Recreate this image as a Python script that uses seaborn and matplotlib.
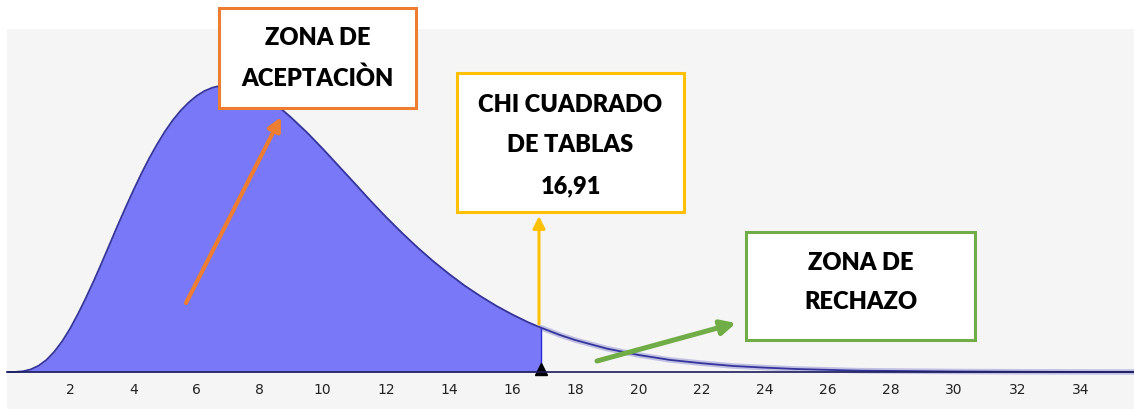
import numpy as np
import pandas as pd
import matplotlib
matplotlib.use("Agg")
import matplotlib.pyplot as plt
import seaborn as sns
from matplotlib.patches import Rectangle, FancyArrowPatch

# chi-square density (9 d.f.)
chi_x = [0, 0.25, 0.5, 0.75, 1, 1.25, 1.5, 1.75, 2, 2.25, 2.5, 2.75, 3, 3.25,
         3.5, 3.75, 4, 4.25, 4.5, 4.75, 5, 5.25, 5.5, 5.75, 6, 6.25, 6.5, 6.75,
         7, 7.25, 7.5, 7.75, 8, 8.25, 8.5, 8.75, 9, 9.5, 10, 10.5, 11, 11.5, 12,
         12.5, 13, 13.5, 14, 14.5, 15, 15.5, 16, 16.5, 16.91, 17, 17.5, 18, 19,
         20, 21, 22, 23, 24, 25, 26, 27, 28, 30, 32, 34, 36]
density = [0, 0.00003, 0.00026, 0.00095, 0.0023, 0.0044, 0.0074, 0.0112, 0.0158,
           0.0211, 0.0269, 0.0331, 0.0396, 0.0463, 0.0530, 0.0595, 0.0658,
           0.0718, 0.0774, 0.0825, 0.0872, 0.0913, 0.0948, 0.0977, 0.1001,
           0.1019, 0.1031, 0.1038, 0.1041, 0.1039, 0.1032, 0.1022, 0.1008,
           0.0991, 0.0970, 0.0948, 0.0923, 0.0869, 0.0810, 0.0748, 0.0686,
           0.0623, 0.0563, 0.0506, 0.0452, 0.0402, 0.0356, 0.0313, 0.0275,
           0.0240, 0.0209, 0.0181, 0.0161, 0.0157, 0.0135, 0.0116, 0.0085,
           0.0062, 0.0044, 0.0032, 0.0022, 0.0016, 0.0011, 0.0008, 0.0005,
           0.0004, 0.0002, 0.0001, 0.00004, 0.00002]
critical = 16.91
tick_vals = list(range(0, 36, 2))
tick_text = [""] + [str(t) for t in tick_vals[1:]]

df = pd.DataFrame({"x": chi_x, "y": density})
acc = df[df["x"] <= critical]
rej = df[df["x"] >= critical]

sns.set_style("white", {"axes.facecolor": "#f5f5f5"})
plt.rcParams["font.family"] = ["Liberation Sans Narrow", "DejaVu Sans"]

W, H = 1134, 409
fig = plt.figure(figsize=(W / 100, H / 100), dpi=100, facecolor="white")
ax = fig.add_axes([7 / W, 0, 1 - 7 / W, 380 / H])

ax.fill_between(acc["x"], 0, acc["y"], color="#7878f8", linewidth=0)
# soft blurry tail like the original
sns.lineplot(data=rej, x="x", y="y", ax=ax, color="#8c8cd4", linewidth=4, alpha=0.5)
sns.lineplot(data=df, x="x", y="y", ax=ax, color="#34349a", linewidth=1.3)
ax.plot([critical, critical], [0, acc["y"].iloc[-1]], color="#2a2ad8", linewidth=1)
ax.plot([critical], [0.0011], marker="^", color="black", markersize=8, clip_on=False)

ax.set_xlim(0, 35.7)
ax.set_ylim(-0.0134, 0.1244)
for s in ["left", "right", "top"]:
    ax.spines[s].set_visible(False)
ax.spines["bottom"].set_position(("data", 0))
ax.spines["bottom"].set_color("#1c1c5c")
ax.spines["bottom"].set_linewidth(1.2)
ax.set_xticks(tick_vals)
ax.set_xticklabels(tick_text)
ax.tick_params(axis="x", direction="out", length=4, width=1, color="#333333",
               labelsize=10, labelcolor="#222222", pad=4)
ax.set_yticks([])
ax.set_xlabel("")
ax.set_ylabel("")


def fpos(px, py):
    return (px / W, 1 - py / H)


def box(x0, y0, x1, y1, color, lines, line_y):
    fx, fy = fpos(x0, y1)
    rect = Rectangle((fx, fy), (x1 - x0) / W, (y1 - y0) / H, transform=fig.transFigure,
                     facecolor="white", edgecolor=color, linewidth=2.2, zorder=5)
    fig.add_artist(rect)
    cx = (x0 + x1) / 2
    for txt, ly in zip(lines, line_y):
        tx, ty = fpos(cx, ly)
        fig.text(tx, ty, txt, ha="center", va="center", fontsize=17, fontweight="heavy",
                 family=["Lato", "DejaVu Sans"], color="black", zorder=6)


def arrow(p0, p1, color, lw, scale):
    a = FancyArrowPatch(fpos(*p0), fpos(*p1), transform=fig.transFigure,
                        arrowstyle="-|>", mutation_scale=scale, color=color,
                        linewidth=lw, shrinkA=0, shrinkB=0, zorder=7)
    fig.add_artist(a)


box(219, 8, 416, 108, "#ed7d31", ["ZONA DE", "ACEPTACIÒN"], [38, 78])
box(457, 73, 684, 212, "#ffc000", ["CHI CUADRADO", "DE TABLAS", "16,91"], [105, 145, 186])
box(746, 232, 975, 340, "#70ad47", ["ZONA DE", "RECHAZO"], [263, 302])

arrow((186, 303), (281, 117), "#ed7d31", 3.0, 20)
arrow((539, 324), (539, 216), "#ffc000", 2.2, 18)
arrow((597, 361), (736, 323), "#70ad47", 3.6, 22)

fig.savefig("out.png", dpi=100, facecolor="white")
